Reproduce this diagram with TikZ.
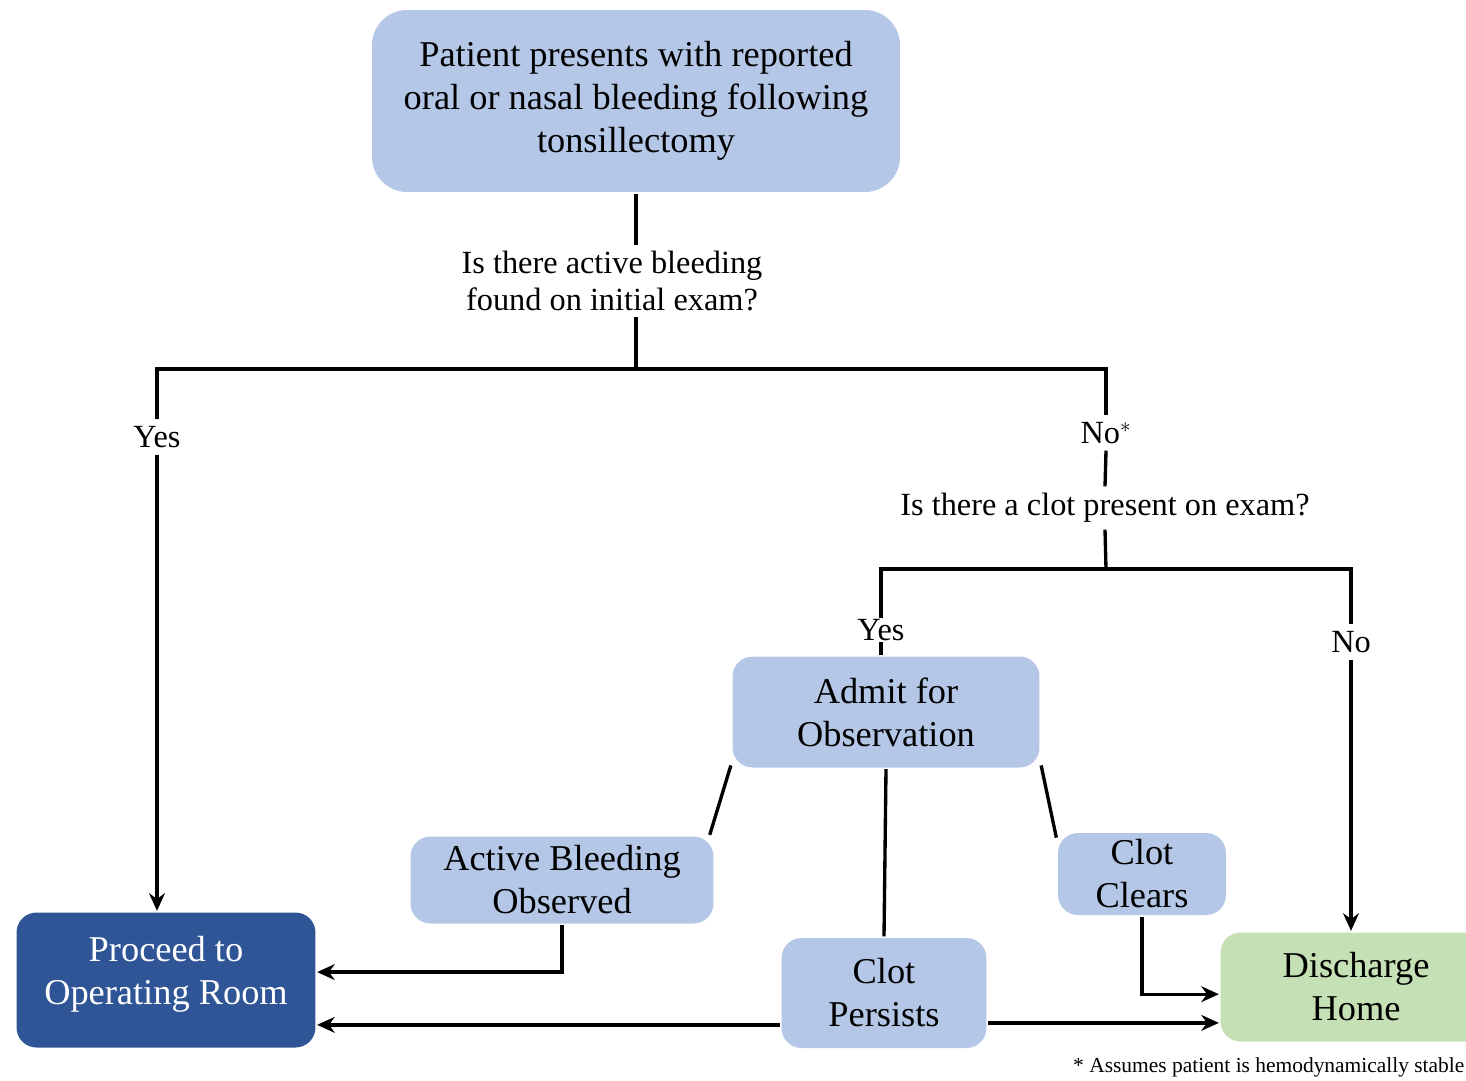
\documentclass[tikz,border=0pt]{standalone}
\usepackage{fontspec}
\setmainfont{Liberation Serif}
\usetikzlibrary{arrows.meta}

\definecolor{boxblue}{RGB}{180,199,231}
\definecolor{darkbox}{RGB}{47,85,151}
\definecolor{boxgreen}{RGB}{197,224,180}

\begin{document}
\begin{tikzpicture}[x=0.02cm,y=-0.02cm,line width=1.9pt,
  box/.style={fill=boxblue,rounded corners=0.4cm,inner sep=0pt,align=center,font=\fontsize{20.7}{24.5}\selectfont},
  ask/.style={align=center,inner sep=3pt,font=\fontsize{18.4}{20.5}\selectfont},
  arr/.style={-{Stealth[length=10pt,width=9pt]}}]

\useasboundingbox (0,0) rectangle (1466,1080);

% boxes
\node[box,rounded corners=0.7cm,minimum width=10.56cm,minimum height=3.64cm] (patient) at (636,101)
  {Patient presents with reported\\oral or nasal bleeding following\\tonsillectomy};
\node[box,minimum width=6.14cm,minimum height=2.22cm] (admit) at (886,712) {Admit for\\Observation};
\node[box,minimum width=6.06cm,minimum height=1.74cm] (active) at (562,880) {Active Bleeding\\Observed};
\node[box,minimum width=4.1cm,minimum height=2.2cm] (persists) at (884,993) {Clot\\Persists};
\node[box,minimum width=3.36cm,minimum height=1.64cm] (clears) at (1142,874) {Clot\\Clears};
\node[box,fill=boxgreen,minimum width=5.42cm,minimum height=2.18cm] (discharge) at (1356,987) {Discharge\\Home};
\node[box,fill=darkbox,text=white,minimum width=5.98cm,minimum height=2.7cm] (proceed) at (166,980) {Proceed to\\Operating Room\\[-14pt]};

% questions and answers
\node[ask] (q1) at (612,281) {Is there active bleeding\\found on initial exam?};
\node[ask] (q2) at (1105,508) {Is there a clot present on exam?};
\node[ask] (yes1) at (157,437) {Yes};
\node[ask] (no1) at (1106,433) {No$^{*}$};
\node[ask,inner sep=0pt] (yes2) at (881,630) {Yes};
\node[ask] (no2) at (1351,642) {No};
\coordinate (split1) at (636,369);
\coordinate (split2) at (1106,569);

\draw (patient.south) -- (patient.south |- q1.north);
\draw (split1 |- q1.south) -- (split1);
\draw (yes1.north) |- (split1) -| (no1.north);
\draw[arr] (yes1.south) -- (yes1.south |- proceed.north);
\draw (no1.south) -- (q2.north);
\draw (q2.south) -- (split2);
\draw (yes2.north) |- (split2) -| (no2.north);
\draw (yes2.south) -- (yes2.south |- admit.north);
\draw[arr] (no2.south) -- (no2.south |- discharge.north);

% outcomes
\draw (admit.199) -- (active.17);
\draw (admit.south) -- (persists.north);
\draw (admit.-19) -- (clears.157);
\draw[arr] (active.south) |- (proceed.3);
\draw[arr] (persists.197) -- (persists.197 -| proceed.east);
\draw[arr] (persists.-16) -- (persists.-16 -| discharge.west);
\draw[arr] (clears.south) |- (discharge.183);

\node[anchor=east,inner sep=0pt,font=\fontsize{12.2}{14}\selectfont] (note) at (1466,1067) {* Assumes patient is hemodynamically stable};

\end{tikzpicture}
\end{document}
